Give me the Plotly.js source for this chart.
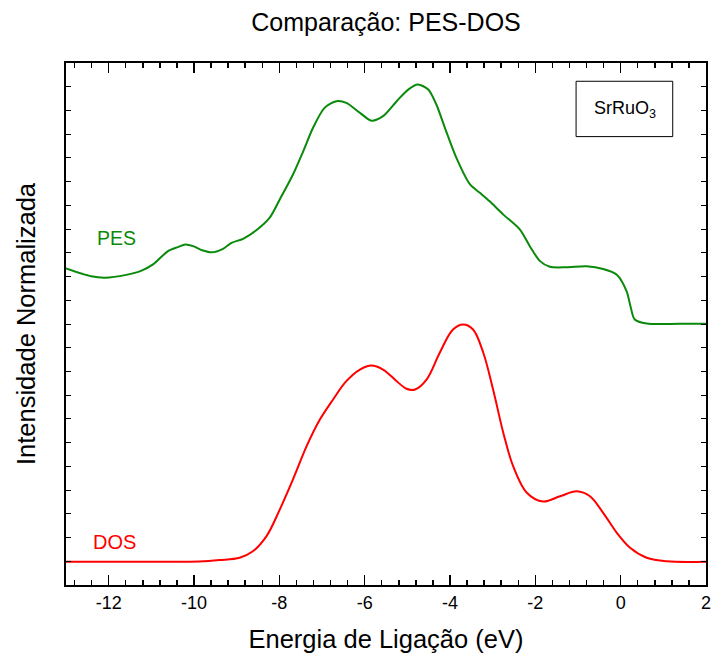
<!DOCTYPE html>
<html>
<head>
<meta charset="utf-8">
<script src="https://cdn.plot.ly/plotly-3.0.1.min.js"></script>
<style>html,body{margin:0;padding:0;background:#fff;}#chart{width:713px;height:662px;}</style>
</head>
<body>
<div id="chart"></div>
<script>
// PES (experimental, offset upward) — binding energy (eV) vs normalized intensity
const pesEnergy = [-13.0, -12.41, -12.09, -11.59, -11.23, -10.96, -10.61, -10.38, -10.20, -10.02, -9.79, -9.59, -9.32, -9.12, -8.85, -8.54, -8.23, -7.99, -7.68, -7.44, -7.21, -6.94, -6.66, -6.43, -6.11, -5.84, -5.57, -5.25, -4.98, -4.75, -4.51, -4.32, -4.12, -3.85, -3.53, -3.30, -3.07, -2.75, -2.36, -2.13, -1.89, -1.66, -1.27, -0.80, -0.41, -0.09, 0.14, 0.23, 0.33, 0.61, 1.39, 2.0];
const pesIntensity = [13.34, 13.01, 12.95, 13.07, 13.25, 13.51, 14.07, 14.24, 14.35, 14.28, 14.10, 14.02, 14.17, 14.42, 14.59, 14.95, 15.47, 16.25, 17.30, 18.28, 19.27, 20.11, 20.39, 20.32, 19.90, 19.57, 19.76, 20.39, 20.88, 21.09, 20.88, 20.25, 19.27, 18.00, 16.88, 16.53, 16.17, 15.61, 14.98, 14.28, 13.65, 13.41, 13.39, 13.43, 13.32, 13.08, 12.38, 11.75, 11.19, 11.02, 11.01, 11.01];

// DOS (calculated)
const dosEnergy = [-13.0, -11.04, -9.87, -9.40, -8.93, -8.62, -8.30, -7.99, -7.68, -7.36, -7.05, -6.74, -6.43, -6.11, -5.84, -5.57, -5.25, -5.02, -4.82, -4.55, -4.24, -3.93, -3.69, -3.46, -3.22, -2.99, -2.75, -2.52, -2.20, -1.82, -1.42, -1.03, -0.72, -0.41, -0.09, 0.22, 0.61, 1.08, 2.0];
const dosIntensity = [0.98, 0.98, 0.99, 1.05, 1.15, 1.42, 2.06, 3.18, 4.45, 5.85, 6.97, 7.82, 8.59, 9.08, 9.25, 9.08, 8.59, 8.27, 8.24, 8.66, 9.79, 10.77, 10.98, 10.77, 9.79, 8.24, 6.41, 5.01, 3.89, 3.52, 3.74, 3.95, 3.74, 3.04, 2.20, 1.57, 1.15, 1.00, 0.98];

const xTickVals = [-12, -10, -8, -6, -4, -2, 0, 2];
const xTickText = ['-12', '-10', '-8', '-6', '-4', '-2', '0', '2'];

const chartTitle = 'Comparação: PES-DOS';
const xTitle = 'Energia de Ligação (eV)';
const yTitle = 'Intensidade Normalizada';
const pesLabel = 'PES';
const dosLabel = 'DOS';
const sampleLabel = 'SrRuO<sub>3</sub>';

const FONT = 'Liberation Sans, Arial, sans-serif';

const traces = [
  {x: pesEnergy, y: pesIntensity, type: 'scatter', mode: 'lines', name: pesLabel,
   line: {color: '#0a8a0a', width: 2, shape: 'spline', smoothing: 0.8}},
  {x: dosEnergy, y: dosIntensity, type: 'scatter', mode: 'lines', name: dosLabel,
   line: {color: '#ff0000', width: 2, shape: 'spline', smoothing: 1}}
];

const layout = {
  width: 713, height: 662,
  margin: {l: 66, r: 7, t: 63, b: 77},
  paper_bgcolor: '#ffffff', plot_bgcolor: '#ffffff',
  showlegend: false,
  font: {family: FONT, color: '#000'},
  title: {text: chartTitle, font: {family: FONT, size: 25, color: '#000'},
          x: 0.5, xref: 'paper', xanchor: 'center', y: 1 - 22/662, yref: 'container', yanchor: 'middle'},
  xaxis: {
    range: [-13, 2], autorange: false,
    showline: true, linecolor: '#000', linewidth: 2, mirror: 'ticks',
    showgrid: false, zeroline: false,
    ticks: 'inside', ticklen: 10, tickwidth: 1.5, tickcolor: '#000',
    tickvals: xTickVals, ticktext: xTickText,
    tickfont: {family: FONT, size: 18, color: '#000'},
    minor: {dtick: 0.4, tick0: 0, ticks: 'inside', ticklen: 5, tickwidth: 1.5, tickcolor: '#000', showgrid: false},
    title: {text: xTitle, font: {family: FONT, size: 25.5, color: '#000'}, standoff: 19}
  },
  yaxis: {
    range: [0, 22], autorange: false,
    showline: true, linecolor: '#000', linewidth: 2, mirror: 'ticks',
    showgrid: false, zeroline: false,
    ticks: 'inside', ticklen: 5, tickwidth: 1, tickcolor: '#000',
    dtick: 1, tick0: 0, showticklabels: false,
    title: {text: yTitle, font: {family: FONT, size: 25.5, color: '#000'}, standoff: 21}
  },
  annotations: [
    {text: pesLabel, xref: 'paper', yref: 'paper', x: 0.079, y: 0.664, xanchor: 'center', yanchor: 'middle',
     showarrow: false, font: {family: FONT, size: 19.5, color: '#0a8a0a'}},
    {text: dosLabel, xref: 'paper', yref: 'paper', x: 0.075, y: 0.082, xanchor: 'center', yanchor: 'middle',
     showarrow: false, font: {family: FONT, size: 20, color: '#ff0000'}},
    {text: sampleLabel, xref: 'paper', yref: 'paper', x: 0.873, y: 0.911, xanchor: 'center', yanchor: 'middle',
     showarrow: false, font: {family: FONT, size: 18, color: '#000'}}
  ],
  shapes: [
    {type: 'rect', xref: 'paper', yref: 'paper', x0: 0.797, x1: 0.948, y0: 0.859, y1: 0.965,
     line: {color: '#000', width: 1}, fillcolor: 'rgba(0,0,0,0)'}
  ]
};

Plotly.newPlot('chart', traces, layout, {displayModeBar: false, staticPlot: true});
</script>
</body>
</html>
